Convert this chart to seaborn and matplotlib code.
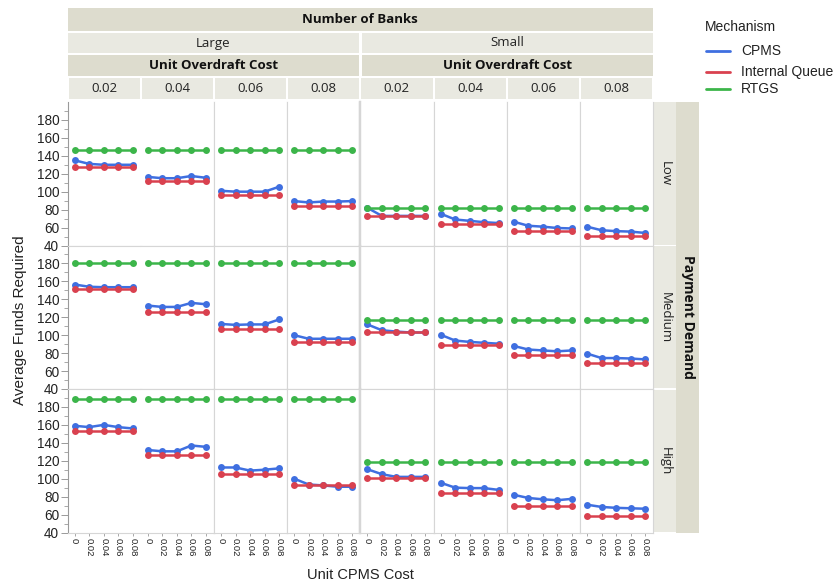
import numpy as np
import pandas as pd
import matplotlib
matplotlib.use("Agg")
import matplotlib.pyplot as plt
import seaborn as sns
from matplotlib.lines import Line2D
from matplotlib.patches import Rectangle

sns.set_theme(style="white")
plt.rcParams["font.family"] = ["Liberation Sans", "DejaVu Sans"]

# ---- data -------------------------------------------------------------
cpms_cost = [0, 0.02, 0.04, 0.06, 0.08]
cpms_cost_labels = ["0", "0.02", "0.04", "0.06", "0.08"]
bank_sizes = ["Large", "Small"]
overdraft_costs = ["0.02", "0.04", "0.06", "0.08"]
demand_levels = ["Low", "Medium", "High"]
mechanisms = ["CPMS", "Internal Queue", "RTGS"]

# panel order: Large 0.02, 0.04, 0.06, 0.08, Small 0.02, 0.04, 0.06, 0.08
cpms_low = [
    [135, 131, 130, 130, 130],
    [116.5, 115, 115, 117.5, 115.5],
    [101, 100, 100, 100, 105.5],
    [89.5, 88, 89, 89, 89.5],
    [82, 73, 73, 73, 73],
    [75.5, 69, 67.5, 66, 65],
    [66.5, 62, 61, 59.5, 59],
    [61, 57, 56, 55.5, 54],
]
queue_low = [
    [128, 128, 128, 128, 128],
    [112, 112, 112, 112, 112],
    [96, 96, 96, 96, 96],
    [83.5, 83.5, 83.5, 83.5, 83.5],
    [72.5, 72.5, 72.5, 72.5, 72.5],
    [64.5, 64.5, 64.5, 64.5, 64.5],
    [56.5, 56.5, 56.5, 56.5, 56.5],
    [51, 51, 51, 51, 51],
]
rtgs_low = [
    [147, 147, 147, 147, 147],
    [147, 147, 147, 147, 147],
    [147, 147, 147, 147, 147],
    [147, 147, 147, 147, 147],
    [82, 82, 82, 82, 82],
    [82, 82, 82, 82, 82],
    [82, 82, 82, 82, 82],
    [82, 82, 82, 82, 82],
]

cpms_medium = [
    [156.5, 154, 153.5, 153.5, 153.5],
    [133, 131.5, 131.5, 136, 134.5],
    [112.5, 111.5, 112, 112, 117.5],
    [100, 96, 96, 96, 96],
    [112, 105.5, 104, 103, 103],
    [100.5, 94, 92.5, 91.5, 90.5],
    [88, 84, 83, 82, 83],
    [79.5, 74.5, 74.5, 74, 73],
]
queue_medium = [
    [151, 151, 151, 151, 151],
    [126, 126, 126, 126, 126],
    [107, 107, 107, 107, 107],
    [92, 92, 92, 92, 92],
    [103, 103, 103, 103, 103],
    [89, 89, 89, 89, 89],
    [78, 78, 78, 78, 78],
    [68.5, 68.5, 68.5, 68.5, 68.5],
]
rtgs_medium = [
    [180, 180, 180, 180, 180],
    [180, 180, 180, 180, 180],
    [180, 180, 180, 180, 180],
    [180, 180, 180, 180, 180],
    [116.5, 116.5, 116.5, 116.5, 116.5],
    [116.5, 116.5, 116.5, 116.5, 116.5],
    [116.5, 116.5, 116.5, 116.5, 116.5],
    [116.5, 116.5, 116.5, 116.5, 116.5],
]

cpms_high = [
    [159, 157.5, 160, 157.5, 156],
    [132, 130.5, 130.5, 137, 135.5],
    [112.5, 112.5, 109, 110, 111.5],
    [100, 93.5, 92.5, 91, 91],
    [110.5, 105, 102, 102, 102],
    [95.5, 90, 89.5, 89.5, 87.5],
    [82, 78.5, 77, 76, 77.5],
    [71, 68.5, 67.5, 67, 66.5],
]
queue_high = [
    [153, 153, 153, 153, 153],
    [126, 126, 126, 126, 126],
    [105.5, 105.5, 105.5, 105.5, 105.5],
    [93.5, 93.5, 93.5, 93.5, 93.5],
    [100.5, 100.5, 100.5, 100.5, 100.5],
    [84.5, 84.5, 84.5, 84.5, 84.5],
    [69, 69, 69, 69, 69],
    [58, 58, 58, 58, 58],
]
rtgs_high = [
    [189, 189, 189, 189, 189],
    [189, 189, 189, 189, 189],
    [189, 189, 189, 189, 189],
    [189, 189, 189, 189, 189],
    [119, 119, 119, 119, 119],
    [119, 119, 119, 119, 119],
    [119, 119, 119, 119, 119],
    [119, 119, 119, 119, 119],
]

series = {
    "Low": {"CPMS": cpms_low, "Internal Queue": queue_low, "RTGS": rtgs_low},
    "Medium": {"CPMS": cpms_medium, "Internal Queue": queue_medium, "RTGS": rtgs_medium},
    "High": {"CPMS": cpms_high, "Internal Queue": queue_high, "RTGS": rtgs_high},
}

records = []
for demand in demand_levels:
    for mech in mechanisms:
        for p, vals in enumerate(series[demand][mech]):
            bank = bank_sizes[p // 4]
            od = overdraft_costs[p % 4]
            for x, v in zip(cpms_cost, vals):
                records.append((demand, bank, od, mech, x, v))
df = pd.DataFrame(records, columns=["demand", "banks", "overdraft", "mechanism", "cpms", "funds"])

palette = {"CPMS": "#3F6FE0", "Internal Queue": "#D9414F", "RTGS": "#3CB54A"}

# ---- layout helpers ---------------------------------------------------
W, H = 839, 585
fig = plt.figure(figsize=(W / 100, H / 100), dpi=100)
fig.patch.set_facecolor("white")

DARK = "#DDDCCE"
LIGHT = "#E9E9E1"
GRID = "#D6D6D6"


def fx(x):
    return x / W


def fy(y):
    return 1 - y / H


def band(x0, y0, x1, y1, color):
    fig.add_artist(Rectangle((fx(x0), fy(y1)), (x1 - x0) / W, (y1 - y0) / H,
                             transform=fig.transFigure, facecolor=color,
                             edgecolor="none", zorder=0))


def ftext(x, y, s, **kw):
    kw.setdefault("ha", "center")
    kw.setdefault("va", "center")
    fig.text(fx(x), fy(y), s, **kw)


left0, colw = 67.5, 73.2
top0, rowh = 102.0, 143.5
right0 = left0 + 8 * colw
bottom0 = top0 + 3 * rowh
head_font = ["Open Sans", "DejaVu Sans"]

# ---- panels -----------------------------------------------------------
for r, demand in enumerate(demand_levels):
    for c in range(8):
        bank = bank_sizes[c // 4]
        od = overdraft_costs[c % 4]
        ax = fig.add_axes([fx(left0 + c * colw), fy(top0 + (r + 1) * rowh),
                           colw / W, rowh / H])
        sub = df[(df.demand == demand) & (df.banks == bank) & (df.overdraft == od)]
        sns.lineplot(data=sub, x="cpms", y="funds", hue="mechanism",
                     hue_order=mechanisms, palette=palette, marker="o",
                     markersize=5, markeredgewidth=0, linewidth=1.8,
                     legend=False, ax=ax)
        ax.set_xlim(-0.0098, 0.0911)
        ax.set_ylim(40, 200)
        ax.set_xlabel("")
        ax.set_ylabel("")
        ax.grid(False)
        ax.set_facecolor("white")
        for side in ["top", "bottom", "left", "right"]:
            ax.spines[side].set_color(GRID)
            ax.spines[side].set_linewidth(0.8)
        if r == 0:
            ax.spines["top"].set_visible(False)
        if c == 0:
            ax.spines["right"].set_visible(False)
            ax.spines["left"].set_color("#9A9A9A")
        if c == 1:
            ax.spines["left"].set_visible(False)
        if c == 3:
            ax.spines["right"].set_linewidth(1.6)
        if c == 4:
            ax.spines["left"].set_linewidth(1.6)

        # x axis
        if r == 2:
            ax.set_xticks(cpms_cost)
            ax.set_xticklabels(cpms_cost_labels)
            ax.tick_params(axis="x", bottom=True, length=2, width=0.6,
                           color="#9A9A9A", labelsize=6.8, labelrotation=270,
                           pad=2, labelcolor="#222222")
        else:
            ax.set_xticks([])

        # y axis
        if c == 0:
            ax.set_yticks(np.arange(40, 181, 20))
            ax.set_yticks(np.arange(50, 200, 20), minor=True)
            ax.tick_params(axis="y", which="major", left=True, length=5,
                           width=0.7, color="#9A9A9A", labelsize=9.8, pad=1,
                           labelcolor="#222222")
            ax.tick_params(axis="y", which="minor", left=True, length=3,
                           width=0.6, color="#9A9A9A")
        else:
            ax.set_yticks([])

# ---- column headers ----------------------------------------------------
band(left0, 8, right0, 31, DARK)
ftext((left0 + right0) / 2, 19.5, "Number of Banks", fontsize=9.5,
      fontweight="bold", family=head_font, color="#111111")
for g, bank in enumerate(bank_sizes):
    gx0 = left0 + g * 4 * colw + (1.5 if g else 0)
    gx1 = left0 + (g + 1) * 4 * colw - (0 if g else 1.5)
    band(gx0, 32.5, gx1, 53, LIGHT)
    ftext((gx0 + gx1) / 2, 43, bank, fontsize=9.5, family=head_font, color="#222222")
    band(gx0, 54.5, gx1, 76, DARK)
    ftext((gx0 + gx1) / 2, 65.5, "Unit Overdraft Cost", fontsize=9.5,
          fontweight="bold", family=head_font, color="#111111")
    for k, od in enumerate(overdraft_costs):
        cx0 = left0 + (g * 4 + k) * colw + 1
        cx1 = left0 + (g * 4 + k + 1) * colw - 1
        band(cx0, 77.5, cx1, 99, LIGHT)
        ftext((cx0 + cx1) / 2, 88.5, od, fontsize=9.5, family=head_font,
              color="#222222")

# ---- row strips --------------------------------------------------------
band(right0 + 23, top0, right0 + 46, bottom0, DARK)
for r, demand in enumerate(demand_levels):
    y0 = top0 + r * rowh + (1 if r else 0)
    y1 = top0 + (r + 1) * rowh - 1
    band(right0 + 1, y0, right0 + 22.5, y1, LIGHT)
    ftext(right0 + 12, top0 + (r + 0.5) * rowh, demand, fontsize=9.5,
          family=head_font, rotation=270, color="#222222")
ftext(right0 + 35, top0 + 1.5 * rowh, "Payment Demand", fontsize=10,
      fontweight="bold", family=head_font, rotation=270, color="#111111")

# Large / Small separator through the plot area
fig.add_artist(Line2D([fx(left0 + 4 * colw)] * 2, [fy(top0), fy(bottom0)],
                      transform=fig.transFigure, color=GRID, lw=1.6, zorder=5))

# ---- axis titles -------------------------------------------------------
ftext(20, 320, "Average Funds Required", rotation=90, fontsize=11, color="#222222")
ftext(360, 575, "Unit CPMS Cost", fontsize=10.5, color="#222222")

# ---- legend ------------------------------------------------------------
ftext(705, 27, "Mechanism", ha="left", fontsize=10, color="#222222")
for mech, yy in zip(mechanisms, [51, 72, 89]):
    fig.add_artist(Line2D([fx(706), fx(730)], [fy(yy), fy(yy)],
                          transform=fig.transFigure, color=palette[mech], lw=2))
    ftext(741, yy, mech, ha="left", fontsize=10, color="#222222")

fig.savefig("out.png", dpi=100, facecolor="white")
